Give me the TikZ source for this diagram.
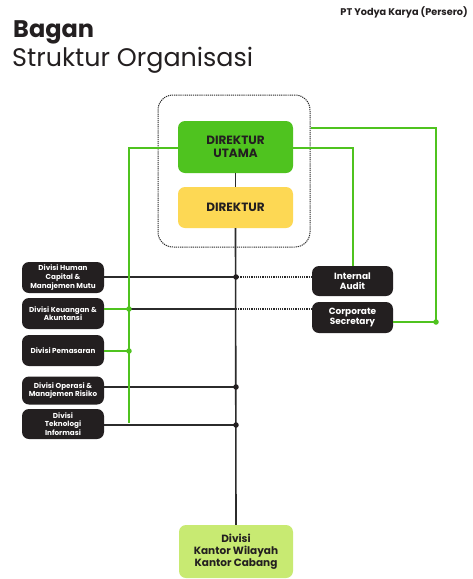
\documentclass[tikz,border=0pt]{standalone}
\usepackage{fontspec}
\setmainfont{Poppins}
\definecolor{dgreen}{HTML}{4FC31F}
\definecolor{dyellow}{HTML}{FDD854}
\definecolor{lgreen}{HTML}{C8EA72}
\definecolor{dbox}{HTML}{231F20}
\definecolor{lineblk}{HTML}{2B2B2B}
\begin{document}
\begin{tikzpicture}[x=1pt,y=-1pt,
  darkbox/.style={fill=dbox,rounded corners=7pt,text=white,font=\fontsize{7.2}{8.6}\selectfont\bfseries,align=center,inner sep=0pt},
  topbox/.style={rounded corners=7pt,font=\fontsize{12}{12.5}\selectfont\bfseries,text=dbox,align=center,inner sep=0pt},
  blk/.style={draw=lineblk,line width=1.6pt},
  grn/.style={draw=dgreen,line width=2pt},
  dotl/.style={draw=lineblk,line width=1.5pt,dash pattern=on 1.2pt off 1pt},
  jdot/.style={circle,fill=#1,inner sep=0pt,minimum size=5.5pt}]
\useasboundingbox (0,0) rectangle (473,579);
\fill[white] (0,0) rectangle (473,579);
% titles
\node[anchor=base west,inner sep=0pt,font=\fontsize{24}{24}\selectfont\bfseries,text=dbox] (t1) at (13,37) {Bagan};
\node[anchor=base west,inner sep=0pt,font=\fontsize{25.4}{25.4}\selectfont,text=dbox] (t2) at (12,66) {Struktur Organisasi};
\node[anchor=base east,inner sep=0pt,font=\fontsize{9.7}{9.7}\selectfont\bfseries,text=dbox] (t3) at (468,15) {PT Yodya Karya (Persero)};
% dashed frame
\node[draw=lineblk,dash pattern=on 1.2pt off 0.9pt,line width=1pt,rounded corners=15pt,minimum width=152pt,minimum height=152pt,inner sep=0pt] (frame) at (234,171) {};
% top boxes
\node[topbox,fill=dgreen,minimum width=115pt,minimum height=52pt] (du) at (235.5,147) {DIREKTUR\\UTAMA};
\node[topbox,fill=dyellow,minimum width=115pt,minimum height=41pt] (dir) at (235.5,207.5) {DIREKTUR};
\node[topbox,fill=lgreen,minimum width=114pt,minimum height=53pt,font=\fontsize{10.5}{12}\selectfont\bfseries] (kw) at (236,551.5) {Divisi\\Kantor Wilayah\\Kantor Cabang};
% left boxes
\node[darkbox,minimum width=82pt,minimum height=31pt] (hc) at (63,277.5) {Divisi Human\\Capital \&\\Manajemen Mutu};
\node[darkbox,minimum width=82pt,minimum height=31pt] (ku) at (63,313.5) {Divisi Keuangan \&\\Akuntansi};
\node[darkbox,minimum width=82pt,minimum height=31pt] (pm) at (63,350.5) {Divisi Pemasaran};
\node[darkbox,minimum width=82pt,minimum height=28pt] (op) at (63,390.5) {Divisi Operasi \&\\Manajemen Risiko};
\node[darkbox,minimum width=82pt,minimum height=30pt] (ti) at (63,424) {Divisi\\Teknologi\\Informasi};
% right boxes
\node[darkbox,minimum width=81pt,minimum height=30pt,font=\fontsize{9}{10}\selectfont\bfseries] (ia) at (352.5,281) {Internal\\Audit};
\node[darkbox,minimum width=81pt,minimum height=31pt,font=\fontsize{9}{10}\selectfont\bfseries] (cs) at (352.5,317.5) {Corporate\\Secretary};
% coordinates
\coordinate (c277) at (236,277);
\coordinate (c309) at (236,309);
\coordinate (c387) at (236,387);
\coordinate (c425) at (236,425);
\coordinate (g309) at (129,309);
\coordinate (g351) at (129,351);
\coordinate (gtop) at (129,148);
\coordinate (gbot) at (129,423);
\coordinate (rg) at (436,322);
% black lines
\draw[blk] (du.south) -- (dir.north);
\draw[blk] (dir.south) -- (kw.north);
\draw[blk] (hc.east |- c277) -- (c277);
\draw[blk] (g309) -- (c309);
\draw[blk] (op.east |- c387) -- (c387);
\draw[blk] (ti.east |- c425) -- (c425);
\draw[dotl] (c277) -- (ia.west |- c277);
\draw[dotl] (c309) -- (cs.west |- c309);
% green lines
\draw[grn] (du.west |- gtop) -- (gtop) -- (gbot);
\draw[grn] (ku.east |- g309) -- (g309);
\draw[grn] (pm.east |- g351) -- (g351);
\draw[grn] (du.east |- 0,148) -| (ia.north);
\draw[grn] (frame.east |- 0,128) -| (rg) -- (cs.east |- rg);
% dots
\node[jdot=dbox] (d1) at (c277) {};
\node[jdot=dbox] (d2) at (c387) {};
\node[jdot=dbox] (d3) at (c425) {};
\node[jdot=dgreen] (d4) at (g309) {};
\node[jdot=dgreen] (d5) at (g351) {};
\node[jdot=dgreen] (d6) at (rg) {};
\end{tikzpicture}
\end{document}
